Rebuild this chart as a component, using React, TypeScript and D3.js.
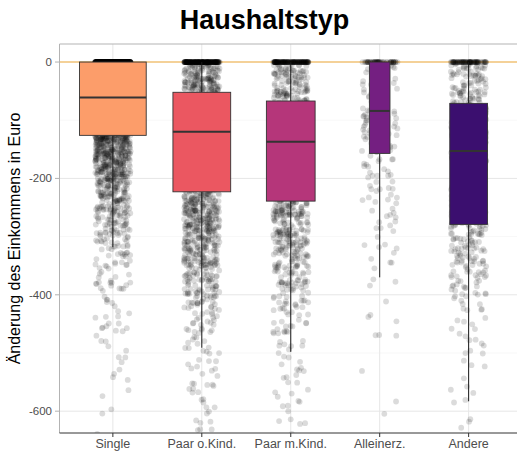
import React from "react";
import * as d3 from "d3";

// ---------- data ----------
const categories = ["Single", "Paar o.Kind.", "Paar m.Kind.", "Alleinerz.", "Andere"];
const boxColors = ["#FC9D6A", "#EB5761", "#B5367A", "#741F81", "#3B0F6F"];

// box statistics (Euro)
const upperWhisker = [0, 0, 0, 0, 0];
const q3 = [0, -52, -67, 0, -71];
const median = [-61, -120, -137, -84, -153];
const q1 = [-126, -223, -239, -157, -279];
const lowerWhisker = [-318, -491, -498, -370, -583];

// observations exactly at 0
const zeroCounts = [560, 200, 140, 55, 80];
// counts per 20-Euro bin, going down from 0 to -640
const binStep = 20;
const countsSingle = [170, 165, 160, 160, 155, 150, 130, 100, 85, 75, 60, 50, 40, 32, 25, 20, 13, 11, 10, 9, 6, 5, 6, 4, 3, 3, 2, 2, 2, 1, 1, 1];
const countsPaarO = [60, 65, 70, 115, 120, 125, 85, 80, 75, 70, 62, 58, 66, 60, 56, 50, 45, 40, 34, 28, 22, 14, 11, 9, 7, 6, 6, 5, 5, 4, 4, 4];
const countsPaarM = [35, 38, 42, 45, 85, 90, 95, 60, 58, 55, 50, 46, 48, 43, 40, 36, 31, 26, 23, 19, 15, 11, 9, 8, 6, 5, 5, 4, 4, 4, 3, 3];
const countsAllein = [8, 9, 10, 11, 14, 14, 12, 11, 9, 8, 7, 6, 5, 5, 4, 4, 3, 3, 2, 1, 1, 2, 1, 3, 0, 0, 1, 0, 0, 1, 1, 0];
const countsAndere = [25, 28, 30, 32, 48, 50, 46, 44, 34, 32, 30, 28, 26, 24, 24, 22, 20, 18, 16, 14, 6, 5, 5, 4, 3, 3, 2, 2, 2, 2, 2, 1];
const binCounts = [countsSingle, countsPaarO, countsPaarM, countsAllein, countsAndere];

const yTicks = [0, -200, -400, -600];
const yMinorTicks = [-100, -300, -500];

// ---------- layout ----------
const W = 517;
const H = 453;
const panel = { left: 59.5, right: 522, top: 44, bottom: 433 };

const x = d3.scalePoint<string>().domain(categories).range([panel.left, panel.right]).padding(0.6);
const y = d3.scaleLinear().domain([-637.5, 31]).range([panel.bottom, panel.top]);
const step = x.step();

// deterministic hash used only for jitter placement (layout, not data)
const hash = (a: number, b: number) => {
  const s = Math.sin(a * 12.9898 + b * 78.233) * 43758.5453;
  return s - Math.floor(s);
};

type Pt = { cx: number; cy: number };
const points: Pt[] = [];
const groupN: number[] = [];
categories.forEach((cat, ci) => {
  const cx0 = x(cat)!;
  const jw = 0.2 * step;
  let n = 0;
  const push = (v: number) => {
    n += 1;
    const jx = hash(n + 0.37, ci * 7.1 + 1.3) * 2 - 1;
    points.push({ cx: cx0 + jx * jw, cy: y(v) });
  };
  for (let k = 0; k < zeroCounts[ci]; k++) push(0);
  binCounts[ci].forEach((m, bi) => {
    for (let k = 0; k < m; k++) {
      const u = hash(n * 1.7 + 3.1, ci * 3.3 + bi * 0.71 + 9.2);
      push(-binStep * bi - binStep * u);
    }
  });
  groupN.push(n);
});
const maxN = d3.max(groupN)!;
const boxW = groupN.map((n) => 0.75 * step * Math.sqrt(n / maxN));

const font = "'Liberation Sans', Arial, Helvetica, sans-serif";

export default function App() {
  return (
    <svg width={W} height={H} style={{ position: "absolute", left: 0, top: 0, background: "#fff" }}>
      <defs>
        <clipPath id="panelClip">
          <rect x={panel.left} y={panel.top} width={panel.right - panel.left} height={panel.bottom - panel.top} />
        </clipPath>
      </defs>
      <rect x={0} y={0} width={W} height={H} fill="#fff" />
      {/* grid */}
      {yMinorTicks.map((t) => (
        <line key={"mi" + t} x1={panel.left} x2={panel.right} y1={y(t)} y2={y(t)} stroke="#f2f2f2" strokeWidth={0.6} />
      ))}
      {yTicks.map((t) => (
        <line key={"ma" + t} x1={panel.left} x2={panel.right} y1={y(t)} y2={y(t)} stroke="#e6e6e6" strokeWidth={1} />
      ))}
      {categories.map((c) => (
        <line key={"vx" + c} x1={x(c)} x2={x(c)} y1={panel.top} y2={panel.bottom} stroke="#e6e6e6" strokeWidth={1} />
      ))}
      {/* reference line */}
      <line x1={panel.left} x2={panel.right} y1={y(0)} y2={y(0)} stroke="#F5B03E" strokeWidth={1.1} />
      {/* jittered points */}
      <g clipPath="url(#panelClip)">
        {points.map((p, i) => (
          <circle key={i} cx={p.cx} cy={p.cy} r={2.9} fill="#000" fillOpacity={0.14} />
        ))}
      </g>
      {/* boxplots */}
      {categories.map((c, i) => {
        const cx = x(c)!;
        const w = boxW[i];
        return (
          <g key={"box" + c}>
            <line x1={cx} x2={cx} y1={y(upperWhisker[i])} y2={y(q3[i])} stroke="#1a1a1a" strokeWidth={1} />
            <line x1={cx} x2={cx} y1={y(q1[i])} y2={y(lowerWhisker[i])} stroke="#1a1a1a" strokeWidth={1} />
            <rect x={cx - w / 2} y={y(q3[i])} width={w} height={y(q1[i]) - y(q3[i])} fill={boxColors[i]} stroke="#333" strokeWidth={0.9} />
            <line x1={cx - w / 2} x2={cx + w / 2} y1={y(median[i])} y2={y(median[i])} stroke="#333" strokeWidth={2} />
          </g>
        );
      })}
      {/* panel border */}
      <line x1={panel.left} x2={panel.right} y1={panel.top} y2={panel.top} stroke="#b3b3b3" strokeWidth={1} />
      <line x1={panel.left} x2={panel.left} y1={panel.top} y2={panel.bottom} stroke="#b3b3b3" strokeWidth={1} />
      <line x1={panel.left} x2={panel.right} y1={panel.bottom} y2={panel.bottom} stroke="#333" strokeWidth={1} />
      {/* y axis */}
      {yTicks.map((t) => (
        <g key={"yt" + t}>
          <line x1={panel.left - 4.5} x2={panel.left} y1={y(t)} y2={y(t)} stroke="#b3b3b3" strokeWidth={1} />
          <text x={52} y={y(t)} dy="0.35em" textAnchor="end" fontFamily={font} fontSize={11.5} fill="#4d4d4d">
            {t}
          </text>
        </g>
      ))}
      {/* x axis */}
      {categories.map((c) => (
        <g key={"xt" + c}>
          <line x1={x(c)} x2={x(c)} y1={panel.bottom} y2={panel.bottom + 4} stroke="#333" strokeWidth={1} />
          <text x={x(c)} y={448} textAnchor="middle" fontFamily={font} fontSize={12.5} fill="#4d4d4d">
            {c}
          </text>
        </g>
      ))}
      {/* titles */}
      <text transform="rotate(-90)" x={-(panel.top + panel.bottom) / 2} y={19.5} textAnchor="middle" fontFamily={font} fontSize={16} fill="#000">
        Änderung des Einkommens in Euro
      </text>
      <text x={264.5} y={29.3} textAnchor="middle" fontFamily={font} fontSize={27} fontWeight="bold" fill="#000">
        Haushaltstyp
      </text>
    </svg>
  );
}
